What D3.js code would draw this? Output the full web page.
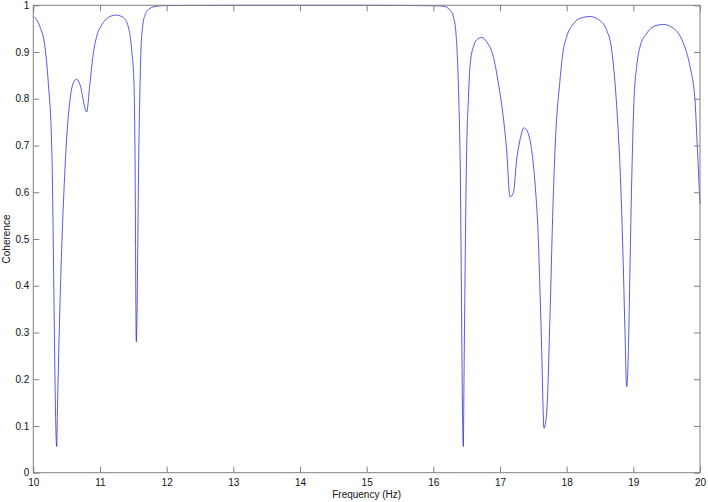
<!DOCTYPE html>
<html>
<head>
<meta charset="utf-8">
<script src="https://cdn.jsdelivr.net/npm/d3@7"></script>
<style>
  body { margin: 0; background: #fff; }
  svg { display: block; }
</style>
</head>
<body>
<svg width="708" height="502"></svg>
<script>
// coherence curve
var freq = [10.0, 10.1, 10.175, 10.225, 10.276, 10.351, 10.36, 10.49, 10.55, 10.6,
    10.65, 10.7, 10.8, 10.85, 10.9, 10.95, 11.026, 11.125, 11.24, 11.35,
    11.425, 11.476, 11.51, 11.525, 11.545, 11.585, 11.615, 11.64, 11.675, 11.75,
    11.85, 12.0, 13.0, 14.0, 15.0, 16.0, 16.15, 16.25, 16.3, 16.34,
    16.375, 16.4, 16.45, 16.46, 16.5, 16.525, 16.55, 16.6, 16.675, 16.726,
    16.8, 16.9, 16.975, 17.05, 17.1, 17.15, 17.2, 17.25, 17.3, 17.36,
    17.425, 17.475, 17.525, 17.575, 17.6, 17.626, 17.66, 17.7, 17.75, 17.79,
    17.825, 17.9, 17.95, 18.0, 18.1, 18.2, 18.35, 18.5, 18.6, 18.676,
    18.725, 18.775, 18.8, 18.85, 18.875, 18.9, 18.925, 18.95, 18.975, 19.01,
    19.05, 19.1, 19.2, 19.325, 19.45, 19.6, 19.75, 19.85, 19.925, 19.95, 20.0];
var coh = [0.977, 0.954, 0.911, 0.834, 0.70, 0.056, 0.12, 0.69, 0.797, 0.834,
    0.842, 0.83, 0.772, 0.834, 0.897, 0.933, 0.958, 0.974, 0.979, 0.974,
    0.954, 0.904, 0.834, 0.69, 0.28, 0.71, 0.904, 0.954, 0.979, 0.9935,
    0.998, 0.9995, 1.0, 1.0, 1.0, 0.999, 0.998, 0.990, 0.976, 0.94,
    0.834, 0.69, 0.056, 0.2, 0.69, 0.797, 0.869, 0.911, 0.929, 0.931,
    0.922, 0.89, 0.834, 0.76, 0.69, 0.59, 0.598, 0.669, 0.712, 0.738,
    0.725, 0.69, 0.62, 0.5, 0.39, 0.26, 0.095, 0.128, 0.334, 0.548,
    0.69, 0.84, 0.904, 0.933, 0.96, 0.972, 0.976, 0.967, 0.947, 0.904,
    0.834, 0.726, 0.655, 0.44, 0.30, 0.184, 0.255, 0.44, 0.62, 0.797,
    0.869, 0.911, 0.94, 0.956, 0.959, 0.951, 0.919, 0.869, 0.797, 0.726, 0.575];
var xTicks = [10, 11, 12, 13, 14, 15, 16, 17, 18, 19, 20];
var yTicks = [0, 0.1, 0.2, 0.3, 0.4, 0.5, 0.6, 0.7, 0.8, 0.9, 1];

var margin = { top: 5.3, right: 8, bottom: 29.3, left: 33.3 };
var width = 708 - margin.left - margin.right;
var height = 502 - margin.top - margin.bottom;

var svg = d3.select("svg");
var graph = svg.append("g")
    .attr("transform", "translate(" + margin.left + "," + margin.top + ")");

var x = d3.scaleLinear().domain([10, 20]).range([0, width]);
var y = d3.scaleLinear().domain([0, 1]).range([height, 0]);

var axisColor = "#808080";
var fontFam = "'Liberation Sans', Arial, sans-serif";

var line = d3.line()
    .x(function(d, i) { return x(freq[i]); })
    .y(function(d) { return y(d); })
    .curve(d3.curveMonotoneX);

graph.append("path")
    .datum(coh)
    .attr("d", line)
    .attr("fill", "none")
    .attr("stroke", "#2323dc")
    .attr("stroke-width", 0.75);

function styleAxis(g, showLabels) {
    g.select(".domain").remove();
    g.selectAll(".tick line").attr("stroke", axisColor);
    g.selectAll(".tick text")
        .attr("fill", "#111")
        .attr("font-family", fontFam)
        .attr("font-size", "10px");
    if (!showLabels) g.selectAll(".tick text").remove();
}

var fmt = function(d) { return d3.format("")(d); };

graph.append("g")
    .attr("transform", "translate(0," + height + ")")
    .call(d3.axisBottom(x).tickValues(xTicks).tickSize(-6).tickPadding(6).tickFormat(fmt))
    .call(styleAxis, true);

graph.append("g")
    .call(d3.axisTop(x).tickValues(xTicks).tickSize(-6).tickFormat(fmt))
    .call(styleAxis, false);

graph.append("g")
    .call(d3.axisLeft(y).tickValues(yTicks).tickSize(-6).tickPadding(4).tickFormat(fmt))
    .call(styleAxis, true);

graph.append("g")
    .attr("transform", "translate(" + width + ",0)")
    .call(d3.axisRight(y).tickValues(yTicks).tickSize(-6).tickFormat(fmt))
    .call(styleAxis, false);

// frame drawn over the curve, like the original
graph.append("rect")
    .attr("width", width)
    .attr("height", height)
    .attr("fill", "none")
    .attr("stroke", axisColor)
    .attr("stroke-width", 1);

svg.append("text")
    .attr("x", margin.left + width / 2)
    .attr("y", 498)
    .attr("text-anchor", "middle")
    .attr("font-family", fontFam)
    .attr("font-size", "10px")
    .attr("fill", "#111")
    .text("Frequency (Hz)");

svg.append("text")
    .attr("transform", "translate(10," + (margin.top + height / 2) + ") rotate(-90)")
    .attr("text-anchor", "middle")
    .attr("font-family", fontFam)
    .attr("font-size", "10px")
    .attr("fill", "#111")
    .text("Coherence");
</script>
</body>
</html>
